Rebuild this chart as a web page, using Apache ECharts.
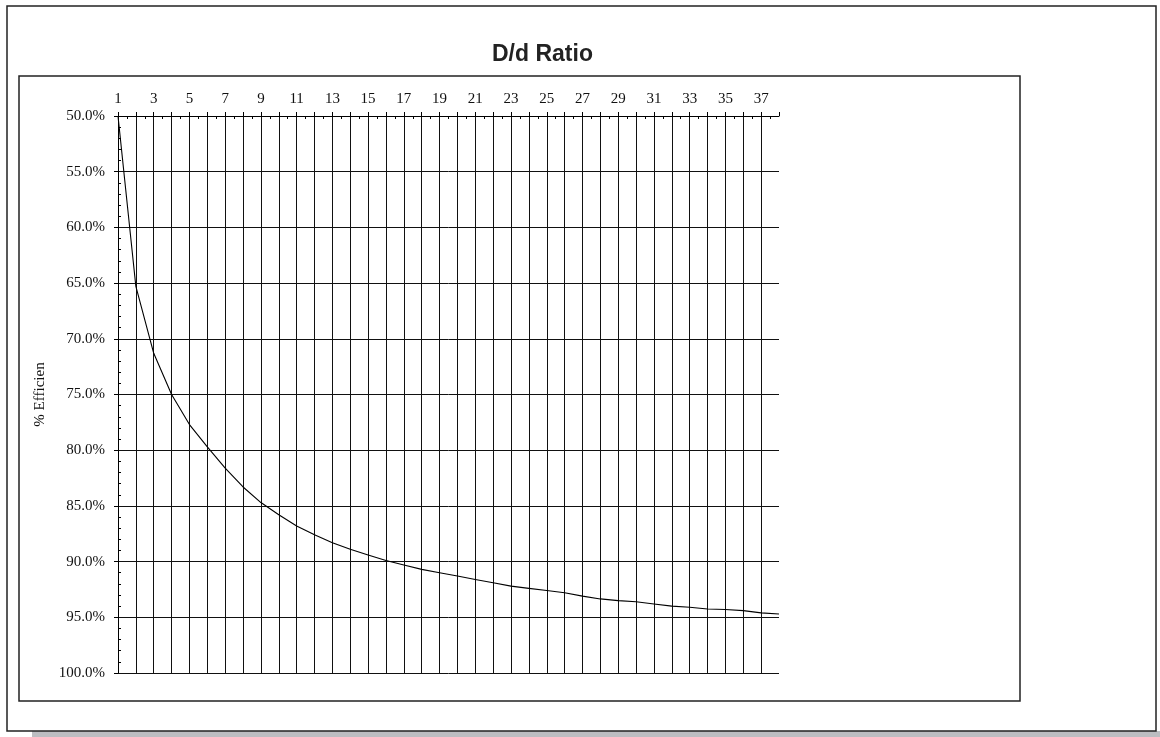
<!DOCTYPE html>
<html>
<head>
<meta charset="utf-8">
<title>D/d Ratio</title>
<script src="https://cdn.jsdelivr.net/npm/echarts@6/dist/echarts.min.js"></script>
<style>
  html, body { margin: 0; padding: 0; background: #fff; }
  #main { width: 1160px; height: 737px; }
</style>
</head>
<body>
<div id="main"></div>
<script>
// D/d 比值 — 效率曲线

var ratios = [1, 2, 3, 4, 5, 6, 7, 8, 9, 10, 11, 12, 13, 14, 15, 16, 17, 18, 19,
    20, 21, 22, 23, 24, 25, 26, 27, 28, 29, 30, 31, 32, 33, 34, 35, 36, 37, 38];
var efficiency = [50.0, 65.3, 71.3, 75.0, 77.7, 79.7, 81.6, 83.3, 84.7, 85.8,
    86.8, 87.6, 88.3, 88.9, 89.4, 89.9, 90.3, 90.7, 91.0, 91.3,
    91.6, 91.9, 92.2, 92.4, 92.6, 92.8, 93.1, 93.35, 93.5, 93.6,
    93.8, 94.0, 94.1, 94.25, 94.3, 94.4, 94.6, 94.7];
var yMin = 50, yMax = 100, yStep = 5;

var serif = 'Liberation Serif';
var points = ratios.map(function (r, i) { return [r, efficiency[i]]; });

var chart = echarts.init(document.getElementById('main'));

var option = {
    animation: false,
    backgroundColor: '#fff',
    title: {
        text: 'D/d Ratio',
        left: 487,
        top: 38,
        textStyle: {
            fontFamily: 'Liberation Sans',
            fontWeight: 'bold',
            fontSize: 23,
            color: '#222'
        }
    },
    graphic: [
        // 底部灰色阴影
        { type: 'rect', shape: { x: 32, y: 731, width: 1128, height: 6 }, style: { fill: '#bcbdc1' } },
        // 外框
        { type: 'rect', shape: { x: 7, y: 6, width: 1149, height: 725 }, style: { fill: 'none', stroke: '#222', lineWidth: 1.5 } },
        // 内框
        { type: 'rect', shape: { x: 19, y: 76, width: 1001, height: 625 }, style: { fill: 'none', stroke: '#222', lineWidth: 1.5 } }
    ],
    grid: {
        left: 118,
        top: 116,
        right: 381,
        bottom: 64
    },
    xAxis: [{
        type: 'value',
        position: 'top',
        min: 1,
        max: 38,
        interval: 1,
        axisLine: { lineStyle: { color: '#000', width: 1 } },
        axisTick: { show: true, length: 4, lineStyle: { color: '#000' } },
        axisLabel: {
            formatter: function (v) { return v % 2 === 1 ? String(v) : ''; },
            fontFamily: serif,
            fontSize: 15,
            color: '#111',
            margin: 9
        },
        splitLine: { show: true, showMaxLine: false, lineStyle: { color: '#111', width: 1 } }
    }, {
        // 次刻度
        type: 'value',
        position: 'top',
        min: 1,
        max: 38,
        interval: 1,
        axisLine: { show: false },
        axisTick: { show: false, inside: true },
        minorTick: { show: true, splitNumber: 2, length: 3, lineStyle: { color: '#000' } },
        axisLabel: { show: false },
        splitLine: { show: false }
    }],
    yAxis: [{
        type: 'value',
        position: 'left',
        inverse: true,
        min: yMin,
        max: yMax,
        interval: yStep,
        name: '% Efficien',
        nameLocation: 'middle',
        nameRotate: 90,
        nameGap: 70,
        nameTextStyle: { fontFamily: serif, fontSize: 15, color: '#111' },
        axisLine: { show: true, lineStyle: { color: '#000', width: 1 } },
        axisTick: { show: true, length: 4, lineStyle: { color: '#000' } },
        axisLabel: {
            formatter: function (v) { return v.toFixed(1) + '%'; },
            fontFamily: serif,
            fontSize: 15,
            color: '#111',
            margin: 13
        },
        splitLine: { show: true, lineStyle: { color: '#111', width: 1 } }
    }, {
        type: 'value',
        position: 'left',
        inverse: true,
        min: yMin,
        max: yMax,
        interval: yStep,
        axisLine: { show: false },
        axisTick: { show: false, inside: true },
        minorTick: { show: true, splitNumber: 5, length: 3, lineStyle: { color: '#000' } },
        axisLabel: { show: false },
        splitLine: { show: false }
    }],
    series: [{
        name: 'Efficiency',
        type: 'line',
        xAxisIndex: 0,
        yAxisIndex: 0,
        data: points,
        showSymbol: false,
        smooth: false,
        lineStyle: { color: '#000', width: 1.1 },
        z: 5
    }]
};
chart.setOption(option);
</script>
</body>
</html>
